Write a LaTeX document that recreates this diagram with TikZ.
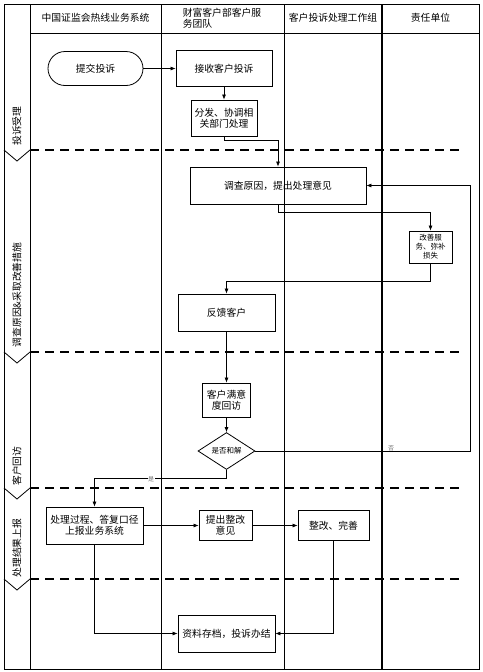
\documentclass[tikz,border=0pt]{standalone}
\usepackage{fontspec}
\setmainfont{Noto Sans CJK SC}
\usetikzlibrary{shapes.geometric,arrows.meta}

\begin{document}
\begin{tikzpicture}[x=1pt,y=-1pt,font=\fontsize{9.8}{11}\selectfont,
    box/.style={draw,line width=0.8pt,align=center,inner sep=1pt},
    flow/.style={line width=0.7pt,-{Latex[length=5pt,width=4pt]}},
    lane/.style={line width=0.8pt},
    phase/.style={line width=1.6pt,dash pattern=on 9pt off 6pt},
    yesno/.style={font=\fontsize{6}{6}\selectfont,text=black!55,fill=white,inner sep=0.5pt}]
    \useasboundingbox (0,0) rectangle (482,672);

    % Draw the frame and the lanes
    \draw[lane] (4,4) rectangle (479,669);
    \draw[lane] (30,33) -- (479,33);
    \draw[lane] (30,4) -- (30,669);
    \draw[lane] (161,4) -- (161,669);
    \draw[lane] (284,4) -- (284,669);
    \draw[line width=2pt] (382,4) -- (382,669);

    % Lane headers
    \node (hsys) at (95.5,18) {中国证监会热线业务系统};
    \node[align=left] (hteam) at (222,18) {财富客户部客户服\\务团队};
    \node (hgroup) at (333,18) {客户投诉处理工作组};
    \node (hunit) at (430.5,18) {责任单位};

    % Phase borders
    \draw[phase] (30,150) -- (463,150);
    \draw[phase] (30,352) -- (463,352);
    \draw[phase] (30,488) -- (463,488);
    \draw[phase] (30,579) -- (463,579);
    \draw[lane] (4,150) -- (17,161) -- (30,150);
    \draw[lane] (4,352) -- (17,363) -- (30,352);
    \draw[lane] (4,488) -- (17,499) -- (30,488);
    \draw[lane] (4,579) -- (17,590) -- (30,579);

    % Phase names
    \node[rotate=90] (paccept) at (17,126) {投诉受理};
    \node[rotate=90] (pinvest) at (17,295) {调查原因\&采取改善措施};
    \node[rotate=90] (pvisit) at (17,466) {客户回访};
    \node[rotate=90] (preport) at (17,548) {处理结果上报};

    % Steps
    \node[box,rounded corners=17pt,minimum width=95pt,minimum height=34pt] (submit) at (95.5,68.5) {提交投诉};
    \node[box,minimum width=96pt,minimum height=36pt] (receive) at (224,68.5) {接收客户投诉};
    \node[box,minimum width=66pt,minimum height=36pt] (dispatch) at (224,118) {分发、协调相\\关部门处理};
    \node[box,minimum width=176pt,minimum height=37pt] (investigate) at (278,185.5) {调查原因，提出处理意见};
    \node[box,minimum width=43pt,minimum height=32pt,font=\fontsize{7.5}{9}\selectfont] (improve) at (430.5,247) {改善服\\务、弥补\\损失};
    \node[box,minimum width=97pt,minimum height=37pt] (feedback) at (226.5,312.5) {反馈客户};
    \node[box,minimum width=48pt,minimum height=34pt] (visit) at (226.5,400) {客户满意\\度回访};
    \node[draw,diamond,line width=0.8pt,minimum width=57pt,minimum height=36pt,inner sep=0pt,
        font=\fontsize{7.5}{8}\selectfont] (decide) at (226.5,451) {是否和解};
    \node[box,minimum width=97pt,minimum height=37pt] (report) at (94.5,525.5) {处理过程、答复口径\\上报业务系统};
    \node[box,minimum width=53pt,minimum height=30pt] (propose) at (225.5,525.5) {提出整改\\意见};
    \node[box,minimum width=71pt,minimum height=30pt] (rectify) at (333.5,525.5) {整改、完善};
    \node[box,minimum width=97pt,minimum height=37pt] (archive) at (226.5,633.5) {资料存档，投诉办结};

    % Connectors
    \coordinate (back) at (470,185.5);
    \draw[flow] (submit) -- (receive);
    \draw[flow] (receive) -- (dispatch);
    \draw[flow] (dispatch.south) -- ++(0,4) -| (investigate.north);
    \draw[flow] (investigate.south) -- ++(0,8) -| (improve.north);
    \draw[flow] (improve.south) -- ++(0,18) -| (feedback.north);
    \draw[flow] (feedback) -- (visit);
    \draw[flow] (visit) -- (decide);
    \draw[flow] (decide.east) -| (back) -- (investigate.east);
    \draw[flow] (decide.south) -- ++(0,8) -| (report.north);
    \draw[flow] (report) -- (propose);
    \draw[flow] (propose) -- (rectify);
    \draw[flow] (rectify.south) |- (archive.east);
    \draw[flow] (report.south) |- (archive.west);

    % Branch labels
    \node[yesno] (lno) at (391,448) {否};
    \node[yesno] (lyes) at (151,479) {是};
\end{tikzpicture}
\end{document}
